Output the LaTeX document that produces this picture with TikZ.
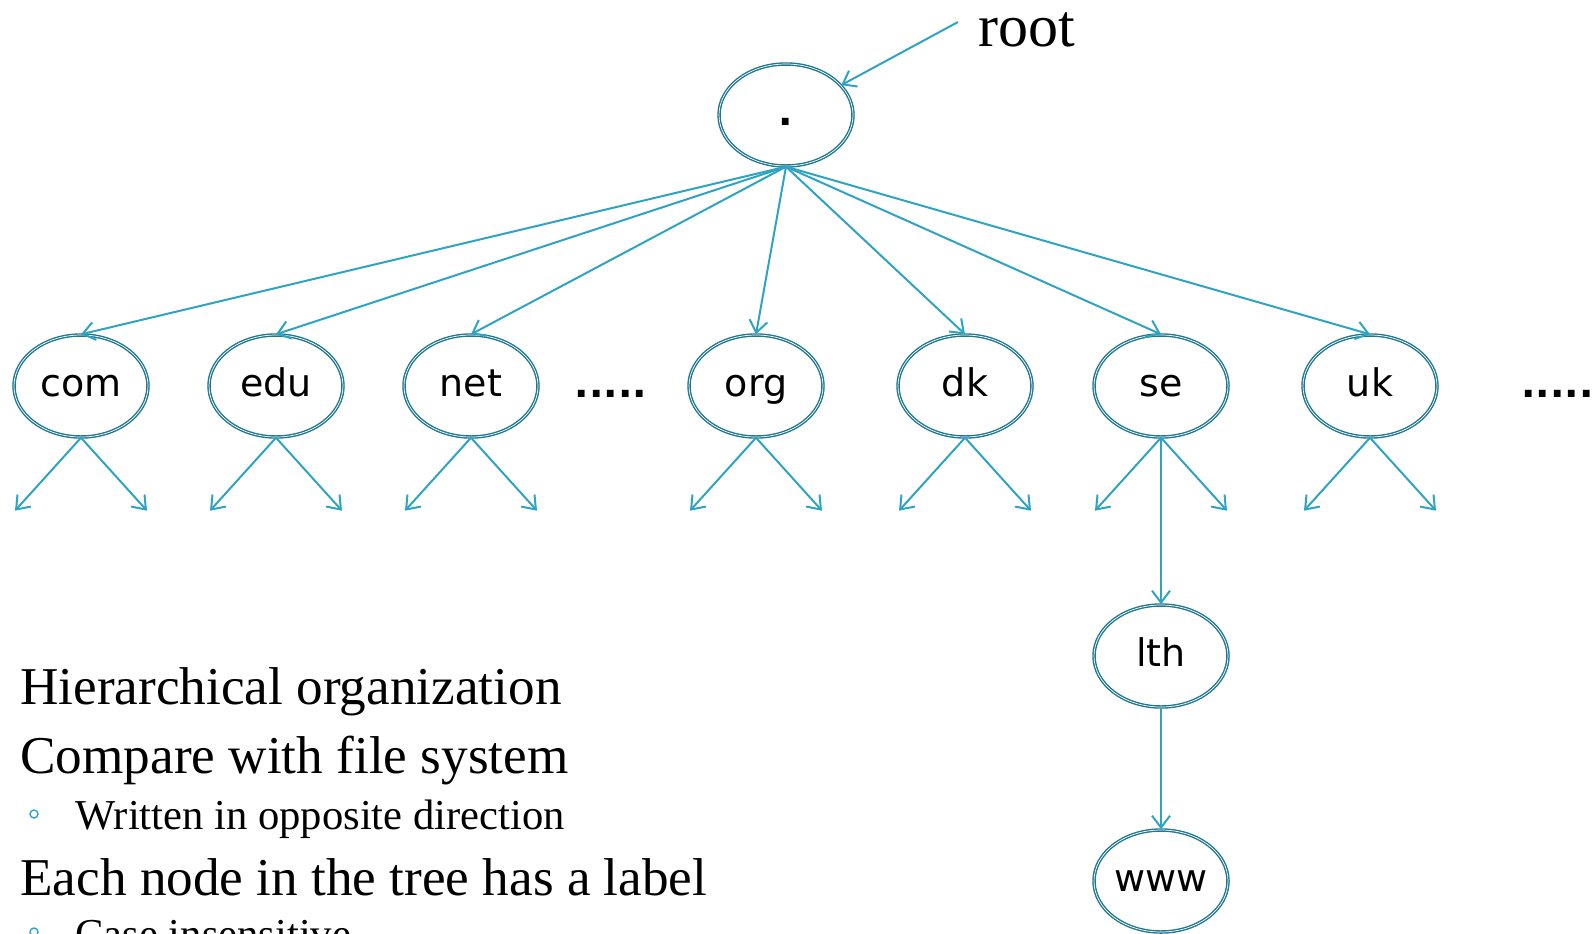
\documentclass[tikz,border=0pt]{standalone}
\usepackage{fontspec}
\setmainfont{Liberation Serif}
\newfontfamily\labelfont{DejaVu Sans}
\usetikzlibrary{arrows.meta,shapes.geometric}
\definecolor{linkblue}{HTML}{2FA4C2}
\definecolor{ringblue}{HTML}{1F7790}

\begin{document}
\begin{tikzpicture}[x=0.5pt,y=-0.5pt]
		% Define styles for the name tree
		\tikzset{dnsnode/.style={ellipse, draw=ringblue, double=white, double distance=0.35pt, line width=0.7pt, minimum width=67pt, minimum height=51pt, inner sep=0pt, font=\labelfont\fontsize{19pt}{19pt}\selectfont, text height=10pt, text depth=0pt}}
		\tikzset{link/.style={draw=linkblue, line width=1pt, -{Straight Barb[length=6pt,width=9pt]}}}
		\tikzset{bigtext/.style={anchor=base west, inner sep=0pt, font=\fontsize{26.6pt}{26.6pt}\selectfont}}
		\tikzset{smalltext/.style={anchor=base west, inner sep=0pt, font=\fontsize{21.3pt}{21.3pt}\selectfont}}
		\tikzset{dots/.style={inner sep=0pt, font=\labelfont\bfseries\fontsize{19pt}{19pt}\selectfont}}
		
		\useasboundingbox (0,0) rectangle (1595,933);
		
		% Root and top level domains
		\node[dnsnode] (root) at (786,115) {\bfseries .};
		\node[dnsnode] (com) at (81,386) {com};
		\node[dnsnode] (edu) at (276,386) {edu};
		\node[dnsnode] (net) at (471,386) {net};
		\node[dnsnode] (org) at (756,386) {org};
		\node[dnsnode] (dk) at (965,386) {dk};
		\node[dnsnode] (se) at (1161,386) {se};
		\node[dnsnode] (uk) at (1370,386) {uk};
		\node[dnsnode] (lth) at (1161,656) {lth};
		\node[dnsnode] (www) at (1161,881) {www};
		
		% Dots for the omitted domains
		\node[dots, anchor=base] (dotsa) at (611,397) {.....};
		\node[dots, anchor=base west] (dotsb) at (1521,397) {.....};
		
		% Root label with its arrow
		\node[anchor=base west, inner sep=0pt, font=\fontsize{30pt}{30pt}\selectfont] (rootlbl) at (978,46) {root};
		\coordinate (rootend) at (958,22);
		\draw[link] (rootend) -- (root);
		
		% Arrows from the root
		\foreach \n in {com,edu,net,org,dk,se,uk}
			\draw[link] (root.south) -- (\n.north);
		
		% Two arrows below each domain
		\foreach \n in {com,edu,net,org,dk,se,uk} {
			\path (\n.south) ++(-66,73) coordinate (\n-left);
			\path (\n.south) ++(66,73) coordinate (\n-right);
			\draw[link] (\n.south) -- (\n-left);
			\draw[link] (\n.south) -- (\n-right);
		}
		
		% Down to www
		\draw[link] (se.south) -- (lth.north);
		\draw[link] (lth.south) -- (www.north);
		
		% Text at the bottom left
		\node[bigtext] (hier) at (20,704) {Hierarchical organization};
		\node[bigtext] (comp) at (20,773) {Compare with file system};
		\node[smalltext] (writ) at (75,829) {Written in opposite direction};
		\node[bigtext] (each) at (20,895) {Each node in the tree has a label};
		\node[smalltext] (case) at (75,948) {Case insensitive};
		\draw[linkblue, line width=0.7pt] (34,814) circle[radius=2pt];
		\draw[linkblue, line width=0.7pt] (34,932) circle[radius=2pt];
	\end{tikzpicture}
\end{document}
